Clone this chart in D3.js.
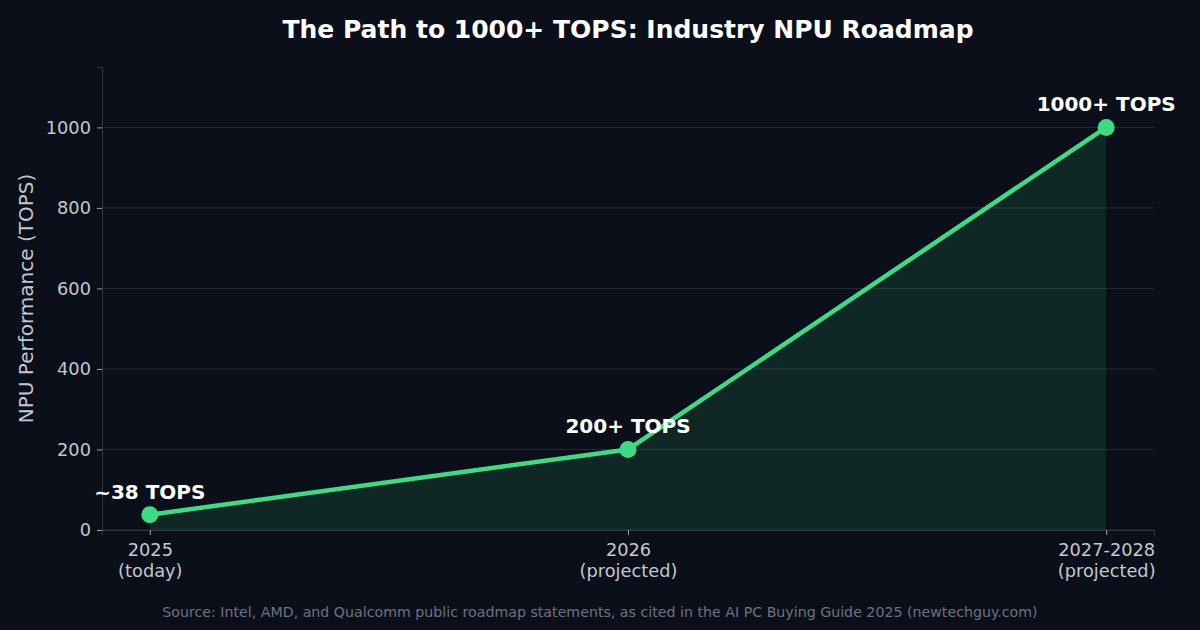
<!DOCTYPE html>
<html>
<head>
<meta charset="utf-8">
<script src="https://cdn.jsdelivr.net/npm/d3@7"></script>
<style>
  body { margin: 0; background: #0b0f19; }
  svg { display: block; font-family: "DejaVu Sans", sans-serif; }
</style>
</head>
<body>
<div id="chart"></div>
<script>
var periods = ["2025\n(today)", "2026\n(projected)", "2027-2028\n(projected)"];
var tops = [38, 200, 1000];
var pointLabels = ["~38 TOPS", "200+ TOPS", "1000+ TOPS"];
var yTicks = [0, 200, 400, 600, 800, 1000];

var width = 1200, height = 630;
var margin = { left: 102, right: 46, top: 67, bottom: 100 };

var svg = d3.select("#chart").append("svg")
    .attr("width", width)
    .attr("height", height);

svg.append("rect").attr("width", width).attr("height", height).attr("fill", "#0b0f19");

// Scales
var x = d3.scaleLinear().domain([-0.1, 2.1]).range([margin.left, width - margin.right]);
var y = d3.scaleLinear().domain([0, 1150]).range([height - margin.bottom, margin.top]);

// Grid
svg.append("g").selectAll("line")
    .data(yTicks)
    .enter().append("line")
    .attr("x1", x(-0.1)).attr("x2", x(2.1))
    .attr("y1", function (d) { return y(d); })
    .attr("y2", function (d) { return y(d); })
    .attr("stroke", "#262b36")
    .attr("stroke-width", 1);

// Area under line
var area = d3.area()
    .x(function (d, i) { return x(i); })
    .y0(y(0))
    .y1(function (d) { return y(d); });

svg.append("path")
    .datum(tops)
    .attr("d", area)
    .attr("fill", "#3ddc84")
    .attr("fill-opacity", 0.12);

// Axes
var yAxis = svg.append("g")
    .attr("transform", "translate(" + margin.left + ",0)")
    .call(d3.axisLeft(y).tickValues(yTicks).tickSize(5).tickPadding(6).tickFormat(d3.format("d")));

var xAxis = svg.append("g")
    .attr("transform", "translate(0," + y(0) + ")")
    .call(d3.axisBottom(x).tickValues([0, 1, 2]).tickSize(5).tickFormat(""));

[yAxis, xAxis].forEach(function (ax) {
    ax.select(".domain").attr("stroke", "#333845");
    ax.selectAll(".tick line").attr("stroke", "#9aa0aa");
});
yAxis.selectAll(".tick text")
    .attr("fill", "#c3c7cf")
    .style("font-size", "17.8px")
    .style("font-family", "DejaVu Sans");

// multi-line x tick labels
xAxis.selectAll(".tick").each(function (d) {
    var lines = periods[d].split("\n");
    var t = d3.select(this).select("text")
        .attr("fill", "#c3c7cf")
        .attr("y", 0)
        .attr("dy", null)
        .style("font-size", "17.8px")
        .style("font-family", "DejaVu Sans");
    lines.forEach(function (l, i) {
        t.append("tspan").attr("x", 0).attr("y", 26 + i * 21).text(l);
    });
});

// Line
var line = d3.line()
    .x(function (d, i) { return x(i); })
    .y(function (d) { return y(d); });

svg.append("path")
    .datum(tops)
    .attr("d", line)
    .attr("fill", "none")
    .attr("stroke", "#3ddc84")
    .attr("stroke-width", 4.5)
    .attr("stroke-linejoin", "round");

svg.append("g").selectAll("circle")
    .data(tops)
    .enter().append("circle")
    .attr("cx", function (d, i) { return x(i); })
    .attr("cy", function (d) { return y(d); })
    .attr("r", 8.5)
    .attr("fill", "#3ddc84");

// Point labels
svg.append("g").selectAll("text")
    .data(tops)
    .enter().append("text")
    .attr("x", function (d, i) { return x(i); })
    .attr("y", function (d) { return y(d) - 16; })
    .attr("text-anchor", "middle")
    .attr("fill", "#ffffff")
    .style("font-size", "20px")
    .style("font-weight", "bold")
    .text(function (d, i) { return pointLabels[i]; });

// Title, centred over the plot area
svg.append("text")
    .attr("x", (x(-0.1) + x(2.1)) / 2)
    .attr("y", 38)
    .attr("text-anchor", "middle")
    .attr("fill", "#ffffff")
    .style("font-size", "25px")
    .style("font-weight", "bold")
    .text("The Path to 1000+ TOPS: Industry NPU Roadmap");

// Y label
svg.append("text")
    .attr("transform", "translate(33," + ((y(0) + y(1150)) / 2) + ") rotate(-90)")
    .attr("text-anchor", "middle")
    .attr("fill", "#c3c7cf")
    .style("font-size", "20px")
    .text("NPU Performance (TOPS)");

// Source
svg.append("text")
    .attr("x", width / 2)
    .attr("y", 617)
    .attr("text-anchor", "middle")
    .attr("fill", "#6b7280")
    .style("font-size", "14.2px")
    .text("Source: Intel, AMD, and Qualcomm public roadmap statements, as cited in the AI PC Buying Guide 2025 (newtechguy.com)");
</script>
</body>
</html>
